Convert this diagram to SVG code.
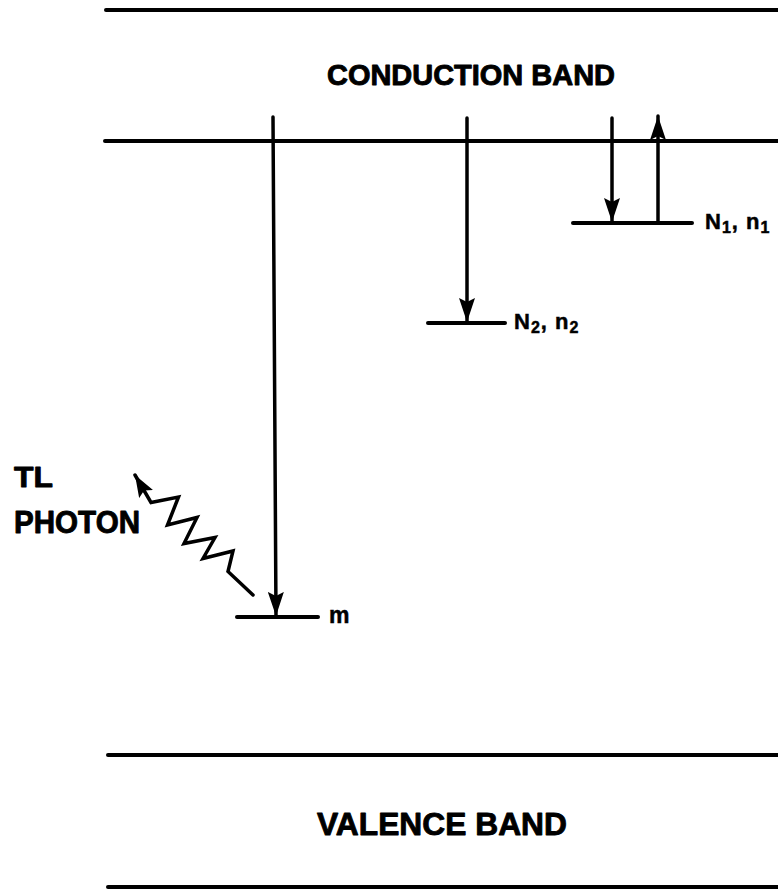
<svg xmlns="http://www.w3.org/2000/svg" width="778" height="890" viewBox="0 0 778 890">
<style>
.band{stroke:#000;stroke-width:4;stroke-linecap:round;fill:none}
.lvl{stroke:#000;stroke-width:4;stroke-linecap:round;fill:none}
.arr{stroke:#000;stroke-width:3.5;stroke-linecap:round;fill:none}
.t{font-family:"Liberation Sans",Arial,sans-serif;font-weight:bold;fill:#000;stroke:#000;stroke-width:0.9;stroke-linejoin:round}
.lab{font-family:"Liberation Sans",Arial,sans-serif;font-weight:bold;fill:#000;stroke:#000;stroke-width:0.5;letter-spacing:1px}
</style>
<defs>
<marker id="ah" viewBox="0 0 24 16" refX="24" refY="8" markerWidth="24" markerHeight="16" markerUnits="userSpaceOnUse" orient="auto">
<path d="M0,0 L24,8 L0,16 L4,8 Z" fill="#000"/>
</marker>
<marker id="ahs" viewBox="0 0 22 16" refX="22" refY="8" markerWidth="22" markerHeight="16" markerUnits="userSpaceOnUse" orient="auto">
<path d="M0,0 L22,8 L0,16 L4,8 Z" fill="#000"/>
</marker>
</defs>
<rect width="778" height="890" fill="#fff"/>

<g id="conduction-band">
<line class="band" x1="106" y1="10" x2="778" y2="10"/>
<line class="band" x1="105" y1="141" x2="778" y2="141"/>
<text class="t" x="327" y="85" font-size="29" textLength="288" lengthAdjust="spacingAndGlyphs">CONDUCTION  BAND</text>
</g>

<g id="valence-band">
<line class="band" x1="108" y1="755" x2="778" y2="755"/>
<line class="band" x1="108" y1="887" x2="778" y2="887"/>
<text class="t" x="317" y="835" font-size="32" textLength="250" lengthAdjust="spacingAndGlyphs">VALENCE  BAND</text>
</g>

<g id="level-N1">
<line class="lvl" x1="573" y1="223" x2="692" y2="223"/>
<text class="lab" x="705" y="229" font-size="22">N<tspan font-size="16" dy="4">1</tspan><tspan dy="-4">, n</tspan><tspan font-size="16" dy="4">1</tspan></text>
</g>

<g id="level-N2">
<line class="lvl" x1="428" y1="323" x2="505" y2="323"/>
<text class="lab" x="514" y="329" font-size="22">N<tspan font-size="16" dy="4">2</tspan><tspan dy="-4">, n</tspan><tspan font-size="16" dy="4">2</tspan></text>
</g>

<g id="level-m">
<line class="lvl" x1="237" y1="617" x2="318" y2="617"/>
<text class="lab" x="329" y="623" font-size="23">m</text>
</g>

<g id="tl-photon-label">
<text class="t" x="14" y="487" font-size="30" textLength="39" lengthAdjust="spacingAndGlyphs">TL</text>
<text class="t" x="14" y="533" font-size="31" textLength="126" lengthAdjust="spacingAndGlyphs">PHOTON</text>
</g>

<g id="connectors">
<line class="arr" x1="273" y1="117" x2="276" y2="616" marker-end="url(#ah)"/>
<line class="arr" x1="467" y1="118" x2="467" y2="322" marker-end="url(#ah)"/>
<line class="arr" x1="612" y1="118" x2="612" y2="222" marker-end="url(#ah)"/>
<line class="arr" x1="658" y1="223" x2="658" y2="116" marker-end="url(#ah)"/>
<polyline class="arr" stroke-linejoin="miter" points="253,595 228,571.5 233,551 203,558.5 215,537.5 184,543.5 197,517.5 167.5,525 178.5,497 151,502.5 135,475" marker-end="url(#ahs)"/>
</g>
</svg>
